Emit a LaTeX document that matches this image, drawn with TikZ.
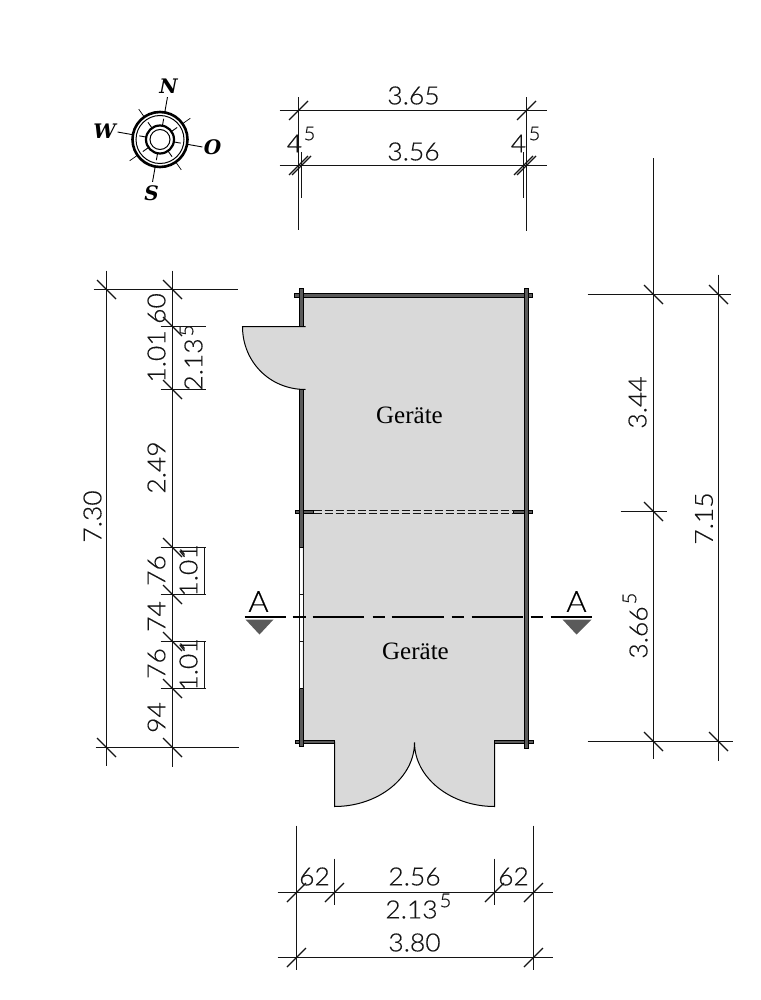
\documentclass[tikz,border=0pt]{standalone}
\usepackage{fontspec}
\setmainfont{Liberation Serif}
\newfontfamily\dimfont{Lato Light}[FakeStretch=1.06,FakeBold=0.35]
\newfontfamily\compfont{DejaVu Serif}[BoldItalicFont={DejaVu Serif Bold Italic}]
\definecolor{roomgrey}{HTML}{D9D9D9}
\definecolor{wallgrey}{HTML}{5A5A5A}
\definecolor{inkc}{HTML}{141414}
\tikzset{
  dimln/.style={draw=inkc,line width=1.1pt},
  dimtxt/.style={font=\dimfont\fontsize{25}{25}\selectfont,text=inkc,inner sep=0pt,anchor=center},
  suptxt/.style={font=\dimfont\fontsize{19}{19}\selectfont,text=inkc,inner sep=0pt,anchor=center},
  seclbl/.style={font=\dimfont\fontsize{29}{29}\selectfont,text=black,inner sep=0pt,anchor=center},
  roomlbl/.style={font=\fontsize{25}{25}\selectfont,text=black,inner sep=0pt,anchor=center},
  complbl/.style={font=\compfont\bfseries\itshape\fontsize{20}{20}\selectfont,text=black,inner sep=0pt,anchor=center},
  wall/.style={draw=black,fill=wallgrey,line width=0.9pt},
  secln/.style={draw=black,line width=2pt},
  sectri/.style={fill=wallgrey,draw=none},
  thinwall/.style={draw=inkc,line width=0.7pt},
}
\begin{document}
\begin{tikzpicture}[x=1pt,y=-1pt]
\useasboundingbox[fill=white] (0,0) rectangle (760,1000);
\begin{scope}[shift={(0.5,0.5)}]

% room fill and door swings
\path[fill=roomgrey] (302,295) -- (525,295) -- (525,741) -- (494,741) -- (494,806)
  .. controls (450,806) and (414,777) .. (414,742)
  .. controls (414,777) and (378,806) .. (334,806)
  -- (334,741) -- (302,741) -- (302,389) -- (304,389)
  .. controls (269,389) and (242,361) .. (242,326) -- (302,326) -- cycle;
\draw[draw=black,line width=1pt] (305,326) -- (242,326) .. controls (242,361) and (269,389) .. (305,389);
\draw[draw=black,line width=1pt] (334,741) -- (334,806) .. controls (378,806) and (414,777) .. (414,742)
  .. controls (414,777) and (450,806) .. (494,806) -- (494,741);

% walls
\draw[wall] (293.5,293) rectangle (532,297);
\draw[wall] (295,739.5) rectangle (334,743);
\draw[wall] (494,739.5) rectangle (532.5,743);
\draw[wall] (294.5,509.5) rectangle (313,513);
\draw[wall] (513,509.5) rectangle (532,513);
\draw[thinwall,line width=0.8pt,dash pattern=on 8pt off 3pt] (313,509.8) -- (513,509.8);
\draw[thinwall,line width=0.8pt,dash pattern=on 8pt off 3pt] (313,512.8) -- (513,512.8);
\draw[wall] (299,288) rectangle (302.5,326);
\draw[wall] (299,389) rectangle (302.5,547);
\draw[wall] (299,688) rectangle (302.5,746);
\draw[thinwall] (299,547) -- (299,688);
\draw[thinwall] (302.5,547) -- (302.5,594);
\draw[thinwall] (302.5,641) -- (302.5,688);
\draw[thinwall,fill=white] (299,594) rectangle (302.5,641);
\draw[wall] (524,288) rectangle (527.5,748);

% section line
\foreach \a/\b in {244/285,292/305,312/363,372/384,391/443,451/463,471/522,530/542,550/591}
  \draw[secln] (\a,616) -- (\b,616);
\fill[sectri] (245,619) -- (273,619) -- (259,634) -- cycle;
\fill[sectri] (562,619) -- (591,619) -- (576,634) -- cycle;
\node[seclbl] (secA1) at (258,601) {A};
\node[seclbl] (secA2) at (576,601) {A};

% room labels
\node[roomlbl] (room1) at (409,415) {Geräte};
\node[roomlbl] (room2) at (415,651) {Geräte};

% top dimensions
\draw[dimln] (279,110) -- (546,110);
\draw[dimln] (279,165) -- (546,165);
\draw[dimln] (298,97) -- (298,230);
\draw[dimln] (526,97) -- (526,231);
\draw[dimln] (301,152) -- (301,198);
\draw[dimln] (523,152) -- (523,198);
\foreach \x/\y in {298/110,526/110,298/165,301/165,523/165,526/165}
  \draw[dimln] (\x-9.5,\y+9.5) -- (\x+9.5,\y-9.5);
\node[dimtxt] (t365) at (413,95) {3.65};
\node[dimtxt] (t356) at (413,151) {3.56};
\node[dimtxt] (t4a) at (294,143) {4};
\node[suptxt] (t5a) at (309,133) {5};
\node[dimtxt] (t4b) at (518,143) {4};
\node[suptxt] (t5b) at (534,133) {5};

% left dimensions
\draw[dimln] (106,270) -- (106,765);
\draw[dimln] (172,270) -- (172,766);
\draw[dimln] (93,289) -- (237,289);
\draw[dimln] (95,747) -- (238,747);
\foreach \y in {326,389,547,594,641,688}
  \draw[dimln] (160,\y) -- (205,\y);
\draw[dimln] (204,547) -- (204,594);
\draw[dimln] (204,641) -- (204,688);
\foreach \x/\y in {106/289,172/289,106/747,172/747,172/326,172/389,172/547,172/594,172/641,172/688}
  \draw[dimln] (\x-9.5,\y-9.5) -- (\x+9.5,\y+9.5);
\foreach \y in {547,641}
  \draw[dimln] (180,\y+2) -- (184,\y+7);
\node[dimtxt,rotate=90] (t730) at (92,516) {7.30};
\node[dimtxt,rotate=90] (t60) at (156,308) {60};
\node[dimtxt,rotate=90] (t101a) at (156,356) {1.01};
\node[dimtxt,rotate=90] (t213) at (193,364) {2.13};
\node[suptxt,rotate=90] (t213s) at (186,330) {5};
\node[dimtxt,rotate=90] (t249) at (156,467) {2.49};
\node[dimtxt,rotate=90] (t76a) at (156,570) {76};
\node[dimtxt,rotate=90] (t74) at (156,616) {74};
\node[dimtxt,rotate=90] (t76b) at (156,663) {76};
\node[dimtxt,rotate=90] (t94) at (156,717) {94};
\node[dimtxt,rotate=90] (t101b) at (188,570) {1.01};
\node[dimtxt,rotate=90] (t101c) at (188,664) {1.01};

% right dimensions
\draw[dimln] (653,158) -- (653,758);
\draw[dimln] (718,274) -- (718,760);
\draw[dimln] (587,294) -- (730,294);
\draw[dimln] (620,511) -- (666,511);
\draw[dimln] (587,741) -- (732,741);
\draw[draw=inkc,line width=1.8pt] (653,294) -- (665,294);
\draw[draw=inkc,line width=1.8pt] (653,741) -- (665,741);
\foreach \x/\y in {653/294,718/294,653/511,653/741,718/741}
  \draw[dimln] (\x-9.5,\y-9.5) -- (\x+9.5,\y+9.5);
\node[dimtxt,rotate=90] (t344) at (637,402) {3.44};
\node[dimtxt,rotate=90] (t715) at (703.5,518) {7.15};
\node[dimtxt,rotate=90] (t366) at (638,632) {3.66};
\node[suptxt,rotate=90] (t366s) at (629,598) {5};

% bottom dimensions
\draw[dimln] (296,825) -- (296,969);
\draw[dimln] (533,825) -- (533,969);
\draw[dimln] (334,858) -- (334,904);
\draw[dimln] (494,858) -- (494,904);
\draw[dimln] (277,892) -- (552,892);
\draw[dimln] (277,957) -- (552,957);
\foreach \x/\y in {296/892,334/892,494/892,533/892,296/957,533/957}
  \draw[dimln] (\x-9.5,\y+9.5) -- (\x+9.5,\y-9.5);
\node[dimtxt] (t62a) at (314,876) {62};
\node[dimtxt] (t256) at (414,876) {2.56};
\node[dimtxt] (t62b) at (513,876) {62};
\node[dimtxt] (t2135) at (411,909) {2.13};
\node[suptxt] (t2135s) at (445,900) {5};
\node[dimtxt] (t380) at (414,942) {3.80};

% compass
\begin{scope}[shift={(159.5,139)}]
  \draw[black,line width=2.6pt] (0,0) circle[radius=27.5];
  \draw[black,line width=1pt] (0,0) circle[radius=24];
  \draw[black,line width=2.2pt] (0,0) circle[radius=14];
  \draw[black,line width=1pt] (0,0) circle[radius=10];
  \foreach \a in {0,45,...,315}
    \draw[black,line width=0.9pt] (\a+10:14) -- (\a+10:21);
  \foreach \a in {0,90,180,270}
    \draw[black,line width=0.9pt] (\a+10:28) -- (\a+10:43);
  \foreach \a in {45,135,225,315}
    \draw[black,line width=0.7pt] (\a+10:28) -- (\a+10:37);
\end{scope}
\node[complbl] (cN) at (168,86) {N};
\node[complbl] (cW) at (104,131) {W};
\node[complbl] (cO) at (212,147) {O};
\node[complbl] (cS) at (151,193) {S};
\end{scope}
\end{tikzpicture}
\end{document}
